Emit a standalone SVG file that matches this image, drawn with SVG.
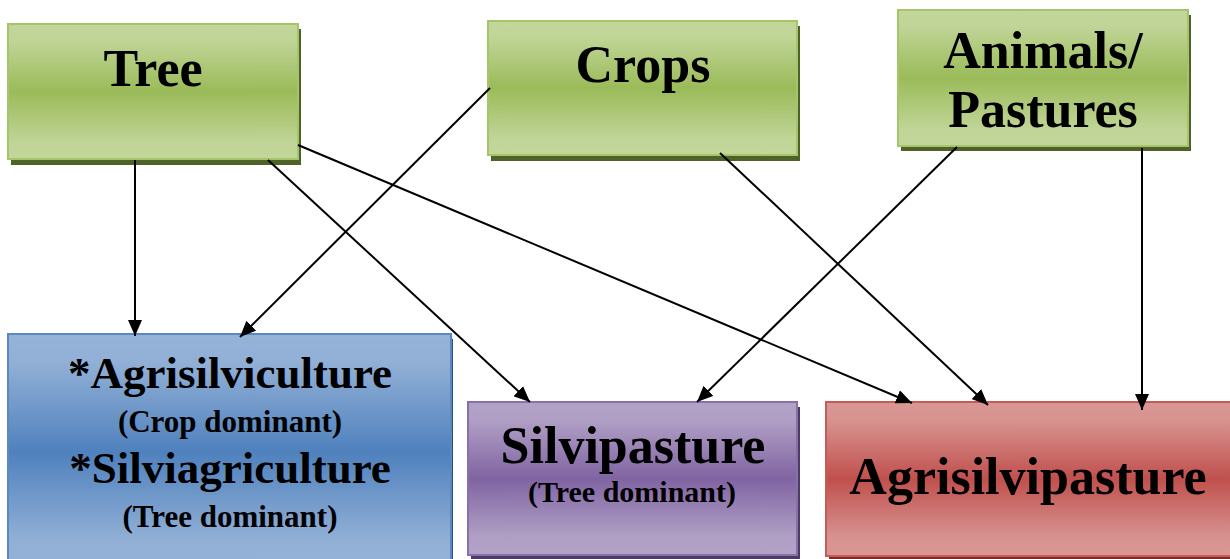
<svg xmlns="http://www.w3.org/2000/svg" width="1230" height="559" viewBox="0 0 1230 559">
<defs>
<linearGradient id="gGreen" x1="0" y1="0" x2="0" y2="1">
<stop offset="0" stop-color="#c3d69b"/><stop offset="0.12" stop-color="#c0d597"/><stop offset="0.5" stop-color="#9bbb59"/><stop offset="0.88" stop-color="#c0d597"/><stop offset="1" stop-color="#c3d69b"/>
</linearGradient>
<linearGradient id="gBlue" x1="0" y1="0" x2="0" y2="1">
<stop offset="0" stop-color="#95b3d7"/><stop offset="0.12" stop-color="#92b0d6"/><stop offset="0.5" stop-color="#4f81bd"/><stop offset="0.88" stop-color="#92b0d6"/><stop offset="1" stop-color="#95b3d7"/>
</linearGradient>
<linearGradient id="gPurple" x1="0" y1="0" x2="0" y2="1">
<stop offset="0" stop-color="#b3a2c7"/><stop offset="0.12" stop-color="#b09fc5"/><stop offset="0.5" stop-color="#8064a2"/><stop offset="0.88" stop-color="#b09fc5"/><stop offset="1" stop-color="#b3a2c7"/>
</linearGradient>
<linearGradient id="gRed" x1="0" y1="0" x2="0" y2="1">
<stop offset="0" stop-color="#d99694"/><stop offset="0.12" stop-color="#d79390"/><stop offset="0.5" stop-color="#c0504d"/><stop offset="0.88" stop-color="#d79390"/><stop offset="1" stop-color="#d99694"/>
</linearGradient>
<marker id="arr" markerUnits="userSpaceOnUse" markerWidth="17" markerHeight="14" refX="16" refY="7" orient="auto">
<path d="M0,0 L16,7 L0,14 z" fill="#000"/>
</marker>
</defs>
<style>
text{font-family:"Liberation Serif","Times New Roman",serif;font-weight:bold;fill:#000;text-anchor:middle}
.big{font-size:52px}
.mid{font-size:45px}
.sub{font-size:31px}
.sub2{font-size:30px}
.green{fill:url(#gGreen);stroke:#a6c46a;stroke-width:2}
.blue{fill:url(#gBlue);stroke:#5a88c0;stroke-width:2}
.purple{fill:url(#gPurple);stroke:#8a70aa;stroke-width:2}
.red{fill:url(#gRed);stroke:#c65a57;stroke-width:2}
.sg{fill:#4f6228}
.sb{fill:#2c4d75}
.sp{fill:#4c3b62}
.sr{fill:#772c2a}
.conn line{stroke:#000;stroke-width:2;marker-end:url(#arr)}
</style>

<g id="tree">
<rect class="sg" x="11" y="29" width="290" height="136"/>
<rect class="green" x="8" y="24" width="290" height="135"/>
<text class="big" x="153" y="86">Tree</text>
</g>

<g id="crops">
<rect class="sg" x="491" y="26" width="309" height="135"/>
<rect class="green" x="488" y="21" width="309" height="134"/>
<text class="big" x="643" y="82">Crops</text>
</g>

<g id="animals">
<rect class="sg" x="901" y="15" width="290" height="136"/>
<rect class="green" x="898" y="10" width="290" height="136"/>
<text class="big" x="1043" y="68">Animals/</text>
<text class="big" x="1043" y="127">Pastures</text>
</g>

<g id="agrisilviculture">
<rect class="sb" x="11" y="339" width="442" height="240"/>
<rect class="blue" x="8" y="334" width="443" height="236"/>
<text class="mid" x="230" y="388">*Agrisilviculture</text>
<text class="sub" x="230" y="432">(Crop dominant)</text>
<text class="mid" x="230" y="483">*Silviagriculture</text>
<text class="sub" x="230" y="527">(Tree dominant)</text>
</g>

<g id="silvipasture">
<rect class="sp" x="471" y="407" width="329" height="152"/>
<rect class="purple" x="468" y="402" width="329" height="153"/>
<text class="big" x="633" y="463">Silvipasture</text>
<text class="sub2" x="632" y="502">(Tree dominant)</text>
</g>

<g id="agrisilvipasture">
<rect class="sr" x="829" y="407" width="410" height="152"/>
<rect class="red" x="826" y="402" width="410" height="154"/>
<text class="big" x="1028" y="494">Agrisilvipasture</text>
</g>

<g id="connectors" class="conn">
<line x1="135" y1="160" x2="135" y2="336"/>
<line x1="268" y1="160" x2="530" y2="402"/>
<line x1="298" y1="145" x2="912" y2="403"/>
<line x1="490" y1="88" x2="240" y2="337"/>
<line x1="720" y1="153" x2="988" y2="405"/>
<line x1="957" y1="147" x2="697" y2="402"/>
<line x1="1142" y1="148" x2="1142" y2="410"/>
</g>
</svg>
